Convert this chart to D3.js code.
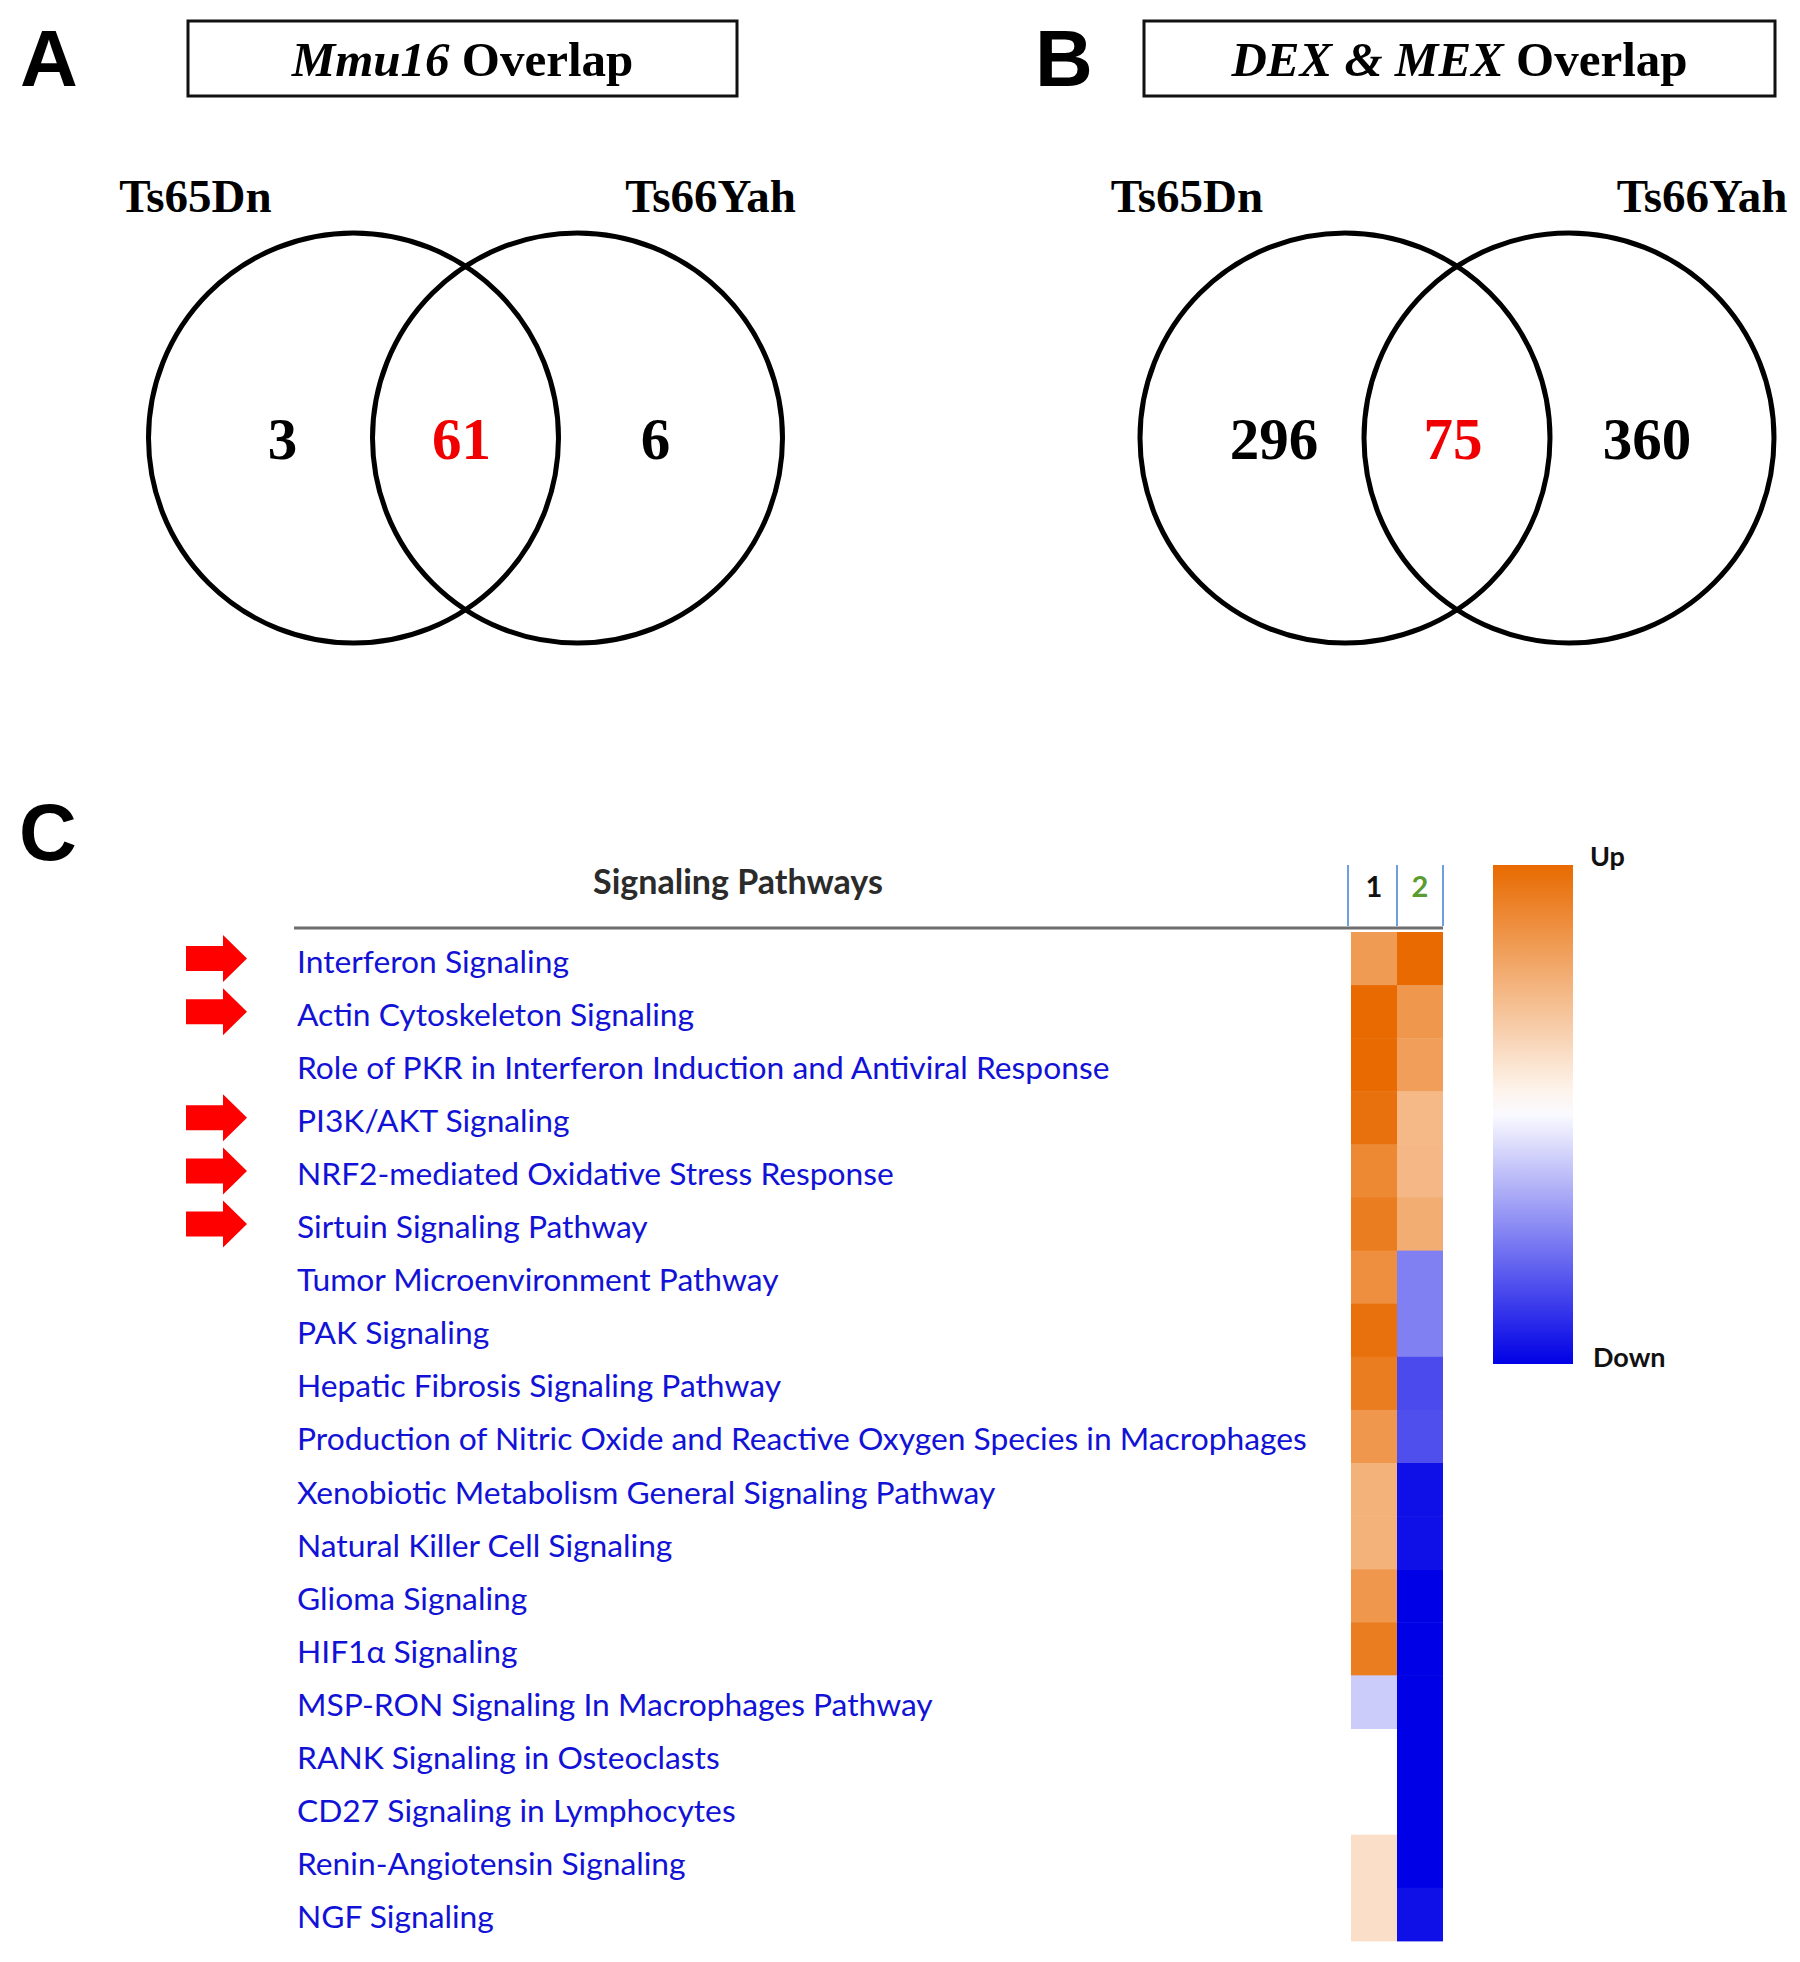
<!DOCTYPE html>
<html>
<head>
<meta charset="utf-8">
<script src="https://cdn.jsdelivr.net/npm/d3@7"></script>
<style>
  body { margin: 0; background: #fff; }
  svg { display: block; }
</style>
</head>
<body>
<div id="chart"></div>
<script>
// ---- data ----
// Venn counts: [only Ts65Dn, shared, only Ts66Yah]
const vennSets = ["Ts65Dn", "Ts66Yah"];
const vennTitleA = ["Mmu16", " Overlap"];   // [italic part, plain part]
const vennTitleB = ["DEX & MEX", " Overlap"];
const vennCountsA = [3, 61, 6];
const vennCountsB = [296, 75, 360];

const pathways = [
  "Interferon Signaling",
  "Actin Cytoskeleton Signaling",
  "Role of PKR in Interferon Induction and Antiviral Response",
  "PI3K/AKT Signaling",
  "NRF2-mediated Oxidative Stress Response",
  "Sirtuin Signaling Pathway",
  "Tumor Microenvironment Pathway",
  "PAK Signaling",
  "Hepatic Fibrosis Signaling Pathway",
  "Production of Nitric Oxide and Reactive Oxygen Species in Macrophages",
  "Xenobiotic Metabolism General Signaling Pathway",
  "Natural Killer Cell Signaling",
  "Glioma Signaling",
  "HIF1\u03b1 Signaling",
  "MSP-RON Signaling In Macrophages Pathway",
  "RANK Signaling in Osteoclasts",
  "CD27 Signaling in Lymphocytes",
  "Renin-Angiotensin Signaling",
  "NGF Signaling"
];
// relative activation, +1 = strongly up (orange), -1 = strongly down (blue), null = no value
const column1 = [0.67, 1.0, 1.0, 0.95, 0.8, 0.87, 0.75, 0.95, 0.87, 0.7, 0.52, 0.52, 0.7, 0.87, -0.2, null, null, 0.22, 0.22];
const column2 = [1.0, 0.7, 0.65, 0.47, 0.48, 0.55, -0.5, -0.5, -0.71, -0.69, -0.94, -0.94, -1, -1, -1, -1, -1, -1, -0.94];
const columns = ["1", "2"];
const arrowed = [
  "Interferon Signaling",
  "Actin Cytoskeleton Signaling",
  "PI3K/AKT Signaling",
  "NRF2-mediated Oxidative Stress Response",
  "Sirtuin Signaling Pathway"
];
const legendLabels = ["Up", "Down"];

// ---- setup ----
const W = 1800, H = 1962;
const svg = d3.select("#chart").append("svg")
    .attr("width", W)
    .attr("height", H);

const serif = "'Liberation Serif', 'Times New Roman', serif";
const sans = "'Liberation Sans', Arial, sans-serif";
const calib = "Lato, 'Open Sans', sans-serif";

// scale a text's font-size so it spans the wanted width
function fitWidth(sel, width) {
    const w = sel.node().getComputedTextLength();
    const fs = parseFloat(sel.attr("font-size"));
    sel.attr("font-size", fs * width / w);
    return fs * width / w;
}

// panel letters
[["A", 20, 86], ["B", 1035, 86], ["C", 19, 860]].forEach(([t, x, y]) => {
    svg.append("text")
        .attr("x", x).attr("y", y)
        .attr("font-family", sans)
        .attr("font-weight", "bold")
        .attr("font-size", 80)
        .text(t);
});

// ---- Venn panels ----
const vennPanels = [
    { title: vennTitleA, counts: vennCountsA, cx: 465.5, boxX: 188, boxW: 549 },
    { title: vennTitleB, counts: vennCountsB, cx: 1457, boxX: 1144, boxW: 631 }
];
const R = 205, half = 112, cy = 438;

vennPanels.forEach(p => {
    const g = svg.append("g");

    g.append("rect")
        .attr("x", p.boxX).attr("y", 21)
        .attr("width", p.boxW).attr("height", 75)
        .attr("fill", "none")
        .attr("stroke", "#111")
        .attr("stroke-width", 3);

    const title = g.append("text")
        .attr("x", p.boxX + p.boxW / 2)
        .attr("y", 76)
        .attr("text-anchor", "middle")
        .attr("font-family", serif)
        .attr("font-weight", "bold")
        .attr("font-size", 49);
    title.append("tspan").attr("font-style", "italic").text(p.title[0]);
    title.append("tspan").text(p.title[1]);

    const centers = [p.cx - half, p.cx + half];
    g.selectAll("circle")
        .data(centers)
        .enter().append("circle")
        .attr("cx", d => d)
        .attr("cy", cy)
        .attr("r", R)
        .attr("fill", "none")
        .attr("stroke", "#000")
        .attr("stroke-width", 5);

    g.selectAll(".setlabel")
        .data(vennSets)
        .enter().append("text")
        .attr("class", "setlabel")
        .attr("x", (d, i) => i === 0 ? centers[0] - 158 : centers[1] + 133)
        .attr("y", 212)
        .attr("text-anchor", "middle")
        .attr("font-family", serif)
        .attr("font-weight", "bold")
        .attr("font-size", 47)
        .text(d => d);

    // horizontal offset of each region's count from the panel centre
    const region = d3.scaleOrdinal()
        .domain(["left", "both", "right"])
        .range([-183, -4, 190]);

    g.selectAll(".count")
        .data(p.counts.map((c, i) => ({ key: region.domain()[i], c })))
        .enter().append("text")
        .attr("class", "count")
        .attr("x", d => p.cx + region(d.key))
        .attr("y", 459)
        .attr("text-anchor", "middle")
        .attr("font-family", serif)
        .attr("font-weight", "bold")
        .attr("font-size", 59)
        .attr("fill", d => d.key === "both" ? "#f00000" : "#000")
        .text(d => d.c);
});

// ---- heatmap ----
const color = d3.scaleLinear()
    .domain([-1, 0, 1])
    .range(["#0000e6", "#ffffff", "#e86a00"]);

const y = d3.scaleBand()
    .domain(pathways)
    .range([932, 932 + pathways.length * 53.1]);

const x = d3.scaleBand()
    .domain(columns)
    .range([1351, 1443]);

const labelX = 297;

// header
const header = svg.append("text")
    .attr("x", 738)
    .attr("y", 894)
    .attr("text-anchor", "middle")
    .attr("font-family", calib)
    .attr("font-weight", "bold")
    .attr("font-size", 29)
    .attr("fill", "#2b2b2b")
    .text("Signaling Pathways");
fitWidth(header, 290);

svg.append("line")
    .attr("x1", 294).attr("x2", x.range()[1])
    .attr("y1", 928).attr("y2", 928)
    .attr("stroke", "#6e6e6e")
    .attr("stroke-width", 3);

// column separators
const edges = columns.map(c => x(c)).concat([x.range()[1]]);
svg.selectAll(".colsep")
    .data(edges)
    .enter().append("line")
    .attr("class", "colsep")
    .attr("x1", (d, i) => i === 0 ? d - 3 : d)
    .attr("x2", (d, i) => i === 0 ? d - 3 : d)
    .attr("y1", 865).attr("y2", 926)
    .attr("stroke", "#6f9ee0")
    .attr("stroke-width", 2);

svg.selectAll(".colhead")
    .data(columns)
    .enter().append("text")
    .attr("class", "colhead")
    .attr("x", d => x(d) + x.bandwidth() / 2)
    .attr("y", 897)
    .attr("text-anchor", "middle")
    .attr("font-family", calib)
    .attr("font-weight", "bold")
    .attr("font-size", 29)
    .attr("fill", (d, i) => i === 0 ? "#111" : "#5a9c30")
    .text(d => d);

// cells
const cells = [];
pathways.forEach((p, i) => {
    [column1, column2].forEach((col, j) => {
        if (col[i] !== null) cells.push({ p, c: columns[j], v: col[i] });
    });
});

svg.selectAll(".cell")
    .data(cells)
    .enter().append("rect")
    .attr("class", "cell")
    .attr("x", d => x(d.c))
    .attr("y", d => y(d.p))
    .attr("width", x.bandwidth())
    .attr("height", y.bandwidth() + 0.5)
    .attr("fill", d => color(d.v));

// row labels
const labels = svg.selectAll(".rowlabel")
    .data(pathways)
    .enter().append("text")
    .attr("class", "rowlabel")
    .attr("x", labelX)
    .attr("y", d => y(d) + y.bandwidth() / 2 + 14)
    .attr("font-family", calib)
    .attr("font-size", 32)
    .attr("fill", "#1212d6")
    .text(d => d);

// fit the longest label to its width in the reference
const longest = labels.filter(d => d.startsWith("Production"));
const fs = fitWidth(longest, 1010);
labels.attr("font-size", fs);

// red arrows
function arrowPath(cyA) {
    const p = d3.path();
    p.moveTo(186, cyA - 12.5);
    p.lineTo(223, cyA - 12.5);
    p.lineTo(223, cyA - 23.5);
    p.lineTo(247, cyA);
    p.lineTo(223, cyA + 23.5);
    p.lineTo(223, cyA + 12.5);
    p.lineTo(186, cyA + 12.5);
    p.closePath();
    return p.toString();
}

svg.selectAll(".arrow")
    .data(arrowed)
    .enter().append("path")
    .attr("class", "arrow")
    .attr("d", d => arrowPath(y(d) + y.bandwidth() / 2))
    .attr("fill", "#ff0000");

// ---- legend ----
const legendY = d3.scaleLinear().domain([1, -1]).range([865, 1364]);
const stopPos = d3.scaleLinear().domain([0, 0.49, 1]).range([1, 0, -1]);

const grad = svg.append("defs").append("linearGradient")
    .attr("id", "legendGrad")
    .attr("x1", 0).attr("y1", 0)
    .attr("x2", 0).attr("y2", 1);

grad.selectAll("stop")
    .data(d3.range(0, 1.0001, 0.05))
    .enter().append("stop")
    .attr("offset", d => d)
    .attr("stop-color", d => color(stopPos(d)));

svg.append("rect")
    .attr("x", 1493)
    .attr("y", legendY(1))
    .attr("width", 80)
    .attr("height", legendY(-1) - legendY(1))
    .attr("fill", "url(#legendGrad)");

svg.selectAll(".legendlabel")
    .data(legendLabels)
    .enter().append("text")
    .attr("class", "legendlabel")
    .attr("x", (d, i) => i === 0 ? 1590 : 1593)
    .attr("y", (d, i) => i === 0 ? 866 : 1367)
    .attr("font-family", calib)
    .attr("font-weight", "bold")
    .attr("font-size", 27)
    .attr("fill", "#111")
    .text(d => d);
</script>
</body>
</html>
